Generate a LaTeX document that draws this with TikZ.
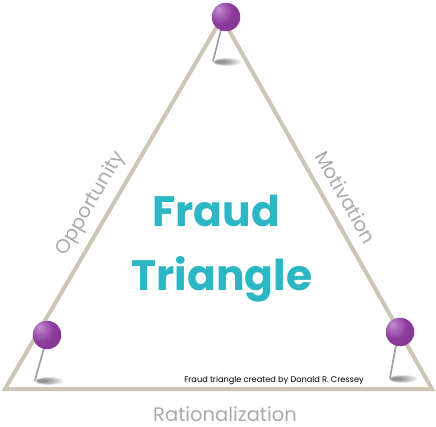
\documentclass[tikz,border=0pt]{standalone}
\usepackage{fontspec}
\setmainfont{Poppins}
\definecolor{edgebeige}{HTML}{CDC5B6}
\definecolor{labelgray}{HTML}{ABABAB}
\definecolor{titleteal}{HTML}{2BB8C4}
\definecolor{pinpurple}{HTML}{8C3A9C}
\definecolor{pinlight}{HTML}{C58FD2}
\definecolor{pindark}{HTML}{5E1F6C}
\definecolor{needlegray}{HTML}{A0A0A4}
\pgfdeclareradialshading{pinball}{\pgfpoint{-14bp}{14bp}}{%
  color(0bp)=(pinlight); color(8bp)=(pinlight!60!pinpurple); color(22bp)=(pinpurple);
  color(50bp)=(pinpurple!80!pindark); color(70bp)=(pindark)}
\tikzset{
  edge/.style={draw=edgebeige,line width=4pt,line join=miter},
  sidelabel/.style={text=labelgray,font=\fontsize{19.5}{20}\selectfont,inner sep=0pt},
  titletext/.style={text=titleteal,font=\fontsize{42.5}{43}\bfseries\selectfont,anchor=base,inner sep=0pt},
  pinhead/.style={circle,minimum size=28.5pt,inner sep=0pt,shading=pinball},
  needle/.style={draw=needlegray,line width=1.7pt,line cap=round},
  shadowlayer/.style={fill=black,opacity=0.10},
}
\newcommand\softshadow[1]{%
  \foreach \s/\dx in {1.0/0,0.85/-1.5,0.7/-3,0.55/-4.5,0.4/-6}{%
    \fill[shadowlayer] ($(#1)+(\dx,0)$) ellipse ({14*\s pt} and {4*\s pt});}}
\usetikzlibrary{calc}
\begin{document}
\begin{tikzpicture}[x=1pt,y=-1pt]
\useasboundingbox (0,0) rectangle (436,427);
\fill[white] (0,0) rectangle (436,427);
% corners
\coordinate (A) at (222,18);
\coordinate (B) at (5,389);
\coordinate (C) at (432,389);
\draw[edge] (A) -- (B) -- (C) -- cycle;
% labels
\node[sidelabel,rotate=59.7] (opp) at (91,204) {Opportunity};
\node[sidelabel,rotate=-60.4] (mot) at (346,197) {Motivation};
\node[sidelabel,anchor=base] (rat) at (225,421) {Rationalization};
\node[titletext] (t1) at (216,227) {Fraud};
\node[titletext] (t2) at (222,291) {Triangle};
\node[font=\fontsize{8.2}{9}\selectfont,anchor=base,inner sep=0pt] (credit) at (274,382) {Fraud triangle created by Donald R. Cressey};
% top pin
\coordinate (sh1) at (227,62);
\softshadow{sh1}
\coordinate (tip1) at (213,61);
\draw[needle] (tip1) -- (221,30);
\node[pinhead] (head1) at (226,17) {};
% left pin
\coordinate (sh2) at (49,381);
\softshadow{sh2}
\coordinate (tip2) at (35,380);
\draw[needle] (tip2) -- (44,348);
\node[pinhead] (head2) at (47,335) {};
% right pin
\coordinate (sh3) at (403,379);
\softshadow{sh3}
\coordinate (tip3) at (390,378);
\draw[needle] (tip3) -- (396,345);
\node[pinhead] (head3) at (400,332) {};
\end{tikzpicture}
\end{document}
